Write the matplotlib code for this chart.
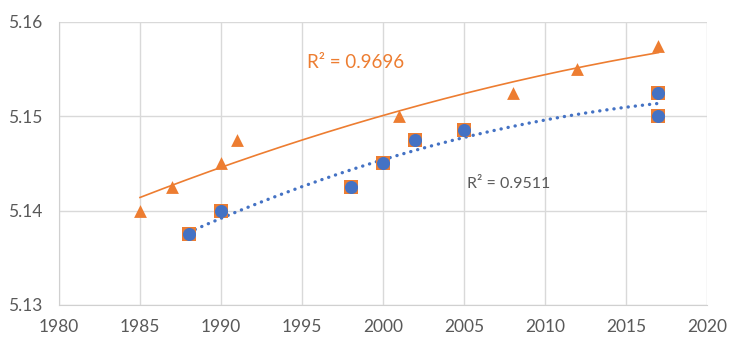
# Excel-style scatter with trendlines

import numpy as np
import matplotlib.pyplot as plt

plt.rcParams['font.family'] = ['Lato', 'DejaVu Sans']

# orange series (triangles)
tri_year = [1985, 1987, 1990, 1991, 2001, 2008, 2012, 2017]
tri_val = [5.1400, 5.1425, 5.1450, 5.1475, 5.1500, 5.1525, 5.1550, 5.1575]

# blue series (circles over orange squares)
sq_year = [1988, 1990, 1998, 2000, 2002, 2005, 2017, 2017]
sq_val = [5.1375, 5.1400, 5.1425, 5.1450, 5.1475, 5.1485, 5.1525, 5.1500]

r2_tri = "R² = 0.9696"
r2_sq = "R² = 0.9511"

xticks = [1980, 1985, 1990, 1995, 2000, 2005, 2010, 2015, 2020]
yticks = [5.13, 5.14, 5.15, 5.16]

orange = '#ED7D31'
blue = '#4472C4'
grey = '#595959'

fig = plt.figure(figsize=(7.3, 3.48), dpi=100)
ax = fig.add_axes([0.0808, 0.1236, 0.8877, 0.8132])

# trendlines (2nd order poly)
def trend(x, y):
    x = np.array(x, float)
    y = np.array(y, float)
    c = np.polyfit(x - 2000, y, 2)
    xs = np.linspace(x.min(), x.max(), 200)
    return xs, np.polyval(c, xs - 2000)

tx, ty = trend(tri_year, tri_val)
ax.plot(tx, ty, color=orange, lw=1.2, zorder=3)
sx, sy = trend(sq_year, sq_val)
ax.plot(sx, sy, color=blue, lw=2.4, ls=(0, (0.05, 2.1)), dash_capstyle='round', zorder=3)

ax.scatter(tri_year, tri_val, marker='^', s=85, color=orange, zorder=4, linewidths=0)
ax.scatter(sq_year, sq_val, marker='s', s=100, color=orange, zorder=4, linewidths=0)
ax.scatter(sq_year, sq_val, marker='o', s=88, color=blue, zorder=5, linewidths=0)

ax.text(1995.3, 5.1557, r2_tri, color=orange, fontsize=13.5, va='center', ha='left')
ax.text(2005.2, 5.1428, r2_sq, color=grey, fontsize=11.5, va='center', ha='left')

ax.set_xlim(1980, 2020)
ax.set_ylim(5.13, 5.16)
ax.set_xticks(xticks)
ax.set_yticks(yticks)
ax.set_yticklabels([f"{v:.2f}" for v in yticks])
ax.grid(True, color='#D9D9D9', lw=1)
ax.set_axisbelow(True)
for s in ['top', 'right']:
    ax.spines[s].set_visible(False)
for s in ['left', 'bottom']:
    ax.spines[s].set_color('#D0D0D0')
ax.tick_params(length=0, labelsize=12.5, labelcolor=grey)
ax.tick_params(axis='x', pad=10)
ax.tick_params(axis='y', pad=12)

fig.savefig('out.png', dpi=100)
